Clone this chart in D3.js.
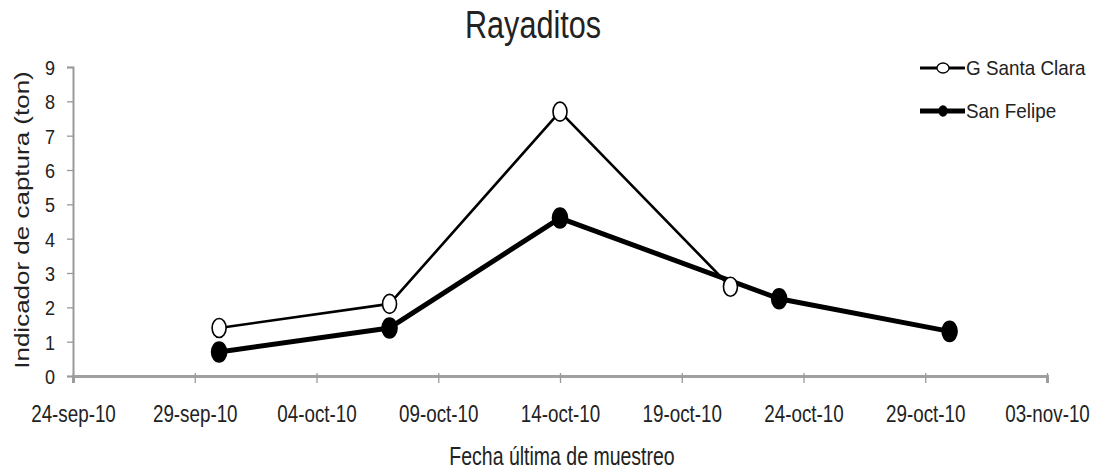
<!DOCTYPE html>
<html>
<head>
<meta charset="utf-8">
<script src="https://cdn.jsdelivr.net/npm/d3@7"></script>
<style>
  body { margin: 0; background: #fff; }
  text { font-family: "Liberation Sans", Arial, sans-serif; fill: #222; }
</style>
</head>
<body>
<svg id="chart" width="1097" height="471"></svg>
<script>
// data
const santaClaraDates = ["30/09/2010", "07/10/2010", "14/10/2010", "21/10/2010"];
const santaClaraValues = [1.4, 2.1, 7.7, 2.6];
const sanFelipeDates = ["30/09/2010", "07/10/2010", "14/10/2010", "23/10/2010", "30/10/2010"];
const sanFelipeValues = [0.7, 1.4, 4.6, 2.25, 1.3];
const xTickDates = ["24/09/2010", "29/09/2010", "04/10/2010", "09/10/2010", "14/10/2010", "19/10/2010", "24/10/2010", "29/10/2010", "03/11/2010"];
const yTicks = [0, 1, 2, 3, 4, 5, 6, 7, 8, 9];

const parseTime = d3.timeParse("%d/%m/%Y");
const monthsEs = ["ene", "feb", "mar", "abr", "may", "jun", "jul", "ago", "sep", "oct", "nov", "dic"];
const formatDate = d => `${d3.timeFormat("%d")(d)}-${monthsEs[d.getMonth()]}-${d3.timeFormat("%y")(d)}`;

// the original picture is squeezed sideways, so text is condensed
const SQUEEZE = 0.8;

const MARGIN = { LEFT: 73, TOP: 67 };
const WIDTH = 974;
const HEIGHT = 309;

const svg = d3.select("#chart");
const g = svg.append("g").attr("transform", `translate(${MARGIN.LEFT}, ${MARGIN.TOP})`);

const xTicks = xTickDates.map(parseTime);
const x = d3.scaleTime().domain(d3.extent(xTicks)).range([0, WIDTH]);
const y = d3.scaleLinear().domain([0, 9]).range([HEIGHT, 0]);

// helper for squeezed text
const label = (parent, txt, px, py, size, sx, rotate) => parent.append("text")
  .attr("transform", `translate(${px}, ${py})${rotate ? " rotate(-90)" : ""} scale(${rotate ? "1," + sx : sx + ",1"})`)
  .attr("text-anchor", "middle")
  .attr("font-size", size + "px")
  .text(txt);

// y axis
const yAxis = g.append("g")
  .call(d3.axisLeft(y).tickValues(yTicks).tickFormat(d3.format("d")).tickSizeOuter(0).tickSize(6));
yAxis.select(".domain").attr("stroke", "#999").attr("stroke-width", 2);
yAxis.selectAll(".tick line").attr("stroke", "#999").attr("stroke-width", 1.3);
yAxis.selectAll(".tick text")
  .attr("font-size", "21px").attr("fill", "#333")
  .attr("x", -18 / 0.86).attr("dy", "0.36em")
  .attr("transform", "scale(0.86,1)");

// x axis
const xAxis = g.append("g")
  .attr("transform", `translate(0, ${HEIGHT})`)
  .call(d3.axisBottom(x).tickValues(xTicks).tickFormat(formatDate).tickSizeOuter(0).tickSize(7));
xAxis.select(".domain").attr("stroke", "#a0a0a0").attr("stroke-width", 3);
xAxis.selectAll(".tick line").attr("stroke", "#999").attr("stroke-width", 1.3).attr("y1", -3);
xAxis.selectAll(".tick text")
  .attr("font-size", "23.5px").attr("fill", "#333")
  .attr("y", 46).attr("dy", 0)
  .attr("transform", `scale(${SQUEEZE},1)`);

// title + axis titles
label(svg, "Rayaditos", 533, 38, 39, 0.785);
label(svg, "Fecha última de muestreo", 562, 465, 25, 0.78);
label(svg, "Indicador de captura (ton)", 29, 220, 26, 0.78, true);

// series
const series = [
  { name: "G Santa Clara", dates: santaClaraDates, values: santaClaraValues, width: 2.6, fill: "#fff", rx: 7, ry: 9.5 },
  { name: "San Felipe", dates: sanFelipeDates, values: sanFelipeValues, width: 5, fill: "#000", rx: 7.5, ry: 10 }
];

const line = d3.line().x(d => x(d.date)).y(d => y(d.value));

series.forEach(s => {
  s.pts = s.dates.map((d, i) => ({ date: parseTime(d), value: s.values[i] }));
  g.append("path")
    .datum(s.pts)
    .attr("fill", "none")
    .attr("stroke", "#000")
    .attr("stroke-width", s.width)
    .attr("stroke-linejoin", "round")
    .attr("d", line);
});

series.forEach(s => {
  g.selectAll(null)
    .data(s.pts)
    .join("ellipse")
    .attr("cx", d => x(d.date))
    .attr("cy", d => y(d.value))
    .attr("rx", s.rx)
    .attr("ry", s.ry)
    .attr("fill", s.fill)
    .attr("stroke", "#000")
    .attr("stroke-width", 1.6);
});

// legend
const legend = svg.append("g").attr("transform", "translate(920, 68)");
series.forEach((s, i) => {
  const row = legend.append("g").attr("transform", `translate(0, ${i * 43})`);
  row.append("line")
    .attr("x1", 0).attr("x2", 45)
    .attr("stroke", "#000").attr("stroke-width", i ? 5 : 3);
  row.append("ellipse")
    .attr("cx", 23).attr("rx", i ? 4 : 6).attr("ry", 5)
    .attr("fill", s.fill).attr("stroke", "#000").attr("stroke-width", 1.3);
  row.append("text")
    .attr("transform", "translate(46, 0) scale(0.92,1)")
    .attr("dy", "0.36em")
    .attr("font-size", "20.5px")
    .text(s.name);
});
</script>
</body>
</html>
